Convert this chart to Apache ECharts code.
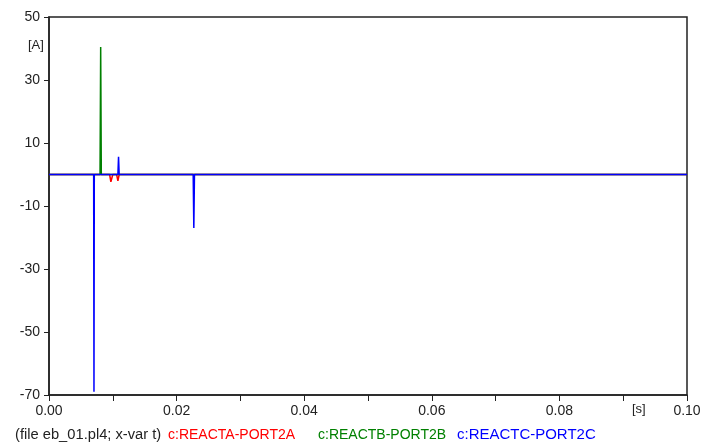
<!DOCTYPE html>
<html>
<head>
<meta charset="utf-8">
<script src="https://cdn.jsdelivr.net/npm/echarts@6/dist/echarts.min.js"></script>
<style>
  html, body { margin: 0; padding: 0; background: #fff; }
  #chart { width: 701px; height: 443px; }
</style>
</head>
<body>
<div id="chart"></div>
<script>
// Time samples [s] and currents [A] for each reactor port
const tA = [0, 0.0095, 0.0097, 0.0100, 0.0106, 0.0108, 0.0110, 0.1];
const iA = [0, 0, -2.3, 0, 0, -2.0, 0, 0];

const tB = [0, 0.0080, 0.0081, 0.0082, 0.1];
const iB = [0, 0, 40.5, 0, 0];

const tC = [0, 0.00700, 0.00705, 0.00710, 0.0108, 0.0109, 0.0110, 0.0226, 0.0227, 0.0228, 0.1];
const iC = [0, 0, -69, 0, 0, 5.6, 0, 0, -17, 0, 0];

const seriesNames = ['c:REACTA-PORT2A', 'c:REACTB-PORT2B', 'c:REACTC-PORT2C'];
const seriesColors = ['#ff0000', '#008000', '#0000ff'];

const xTicks = { min: 0, max: 0.1, step: 0.01 };
const yTicks = { min: -70, max: 50, step: 20 };

function pairs(t, v) { return t.map((x, i) => [x, v[i]]); }

const chart = echarts.init(document.getElementById('chart'), null, { renderer: 'canvas' });
const font = 'Arial, "Liberation Sans", sans-serif';
const axisCol = '#222';

chart.setOption({
  animation: false,
  grid: {
    left: 49, top: 17, right: 14, bottom: 48,
    show: true, borderColor: axisCol, borderWidth: 1.5,
    containLabel: false, outerBoundsMode: 'none'
  },
  xAxis: {
    type: 'value', min: xTicks.min, max: xTicks.max, interval: xTicks.step,
    axisLine: { show: true, onZero: false, lineStyle: { color: axisCol, width: 1.5 } },
    axisTick: { show: true, length: 6, lineStyle: { color: axisCol } },
    splitLine: { show: false },
    axisLabel: {
      margin: 9, color: axisCol, fontFamily: font, fontSize: 14,
      hideOverlap: false,
      formatter: v => (Math.round(v * 100) % 2 === 0 ? v.toFixed(2) : '')
    }
  },
  yAxis: {
    type: 'value', min: yTicks.min, max: yTicks.max, interval: yTicks.step,
    axisLine: { show: true, onZero: false, lineStyle: { color: axisCol, width: 1.5 } },
    axisTick: { show: true, length: 5, lineStyle: { color: axisCol } },
    splitLine: { show: false },
    axisLabel: { margin: 9, color: axisCol, fontFamily: font, fontSize: 14 }
  },
  series: [
    { name: seriesNames[0], type: 'line', data: pairs(tA, iA), showSymbol: false, lineStyle: { color: seriesColors[0], width: 1.5 }, z: 2 },
    { name: seriesNames[1], type: 'line', data: pairs(tB, iB), showSymbol: false, lineStyle: { color: seriesColors[1], width: 1.5 }, z: 3 },
    { name: seriesNames[2], type: 'line', data: pairs(tC, iC), showSymbol: false, lineStyle: { color: seriesColors[2], width: 1.5 }, z: 4 }
  ],
  graphic: [
    { type: 'text', left: 28, top: 39, style: { text: '[A]', fill: axisCol, font: '13px ' + font } },
    { type: 'text', left: 632, top: 403, style: { text: '[s]', fill: axisCol, font: '13px ' + font } },
    { type: 'text', x: 15, y: 428, scaleX: 1.05, style: { text: '(file eb_01.pl4; x-var t)', fill: axisCol, font: '14px ' + font } },
    { type: 'text', x: 168, y: 428, style: { text: seriesNames[0], fill: seriesColors[0], font: '14px ' + font } },
    { type: 'text', x: 318, y: 428, style: { text: seriesNames[1], fill: seriesColors[1], font: '14px ' + font } },
    { type: 'text', x: 457, y: 428, scaleX: 1.07, style: { text: seriesNames[2], fill: seriesColors[2], font: '14px ' + font } }
  ]
});
</script>
</body>
</html>
